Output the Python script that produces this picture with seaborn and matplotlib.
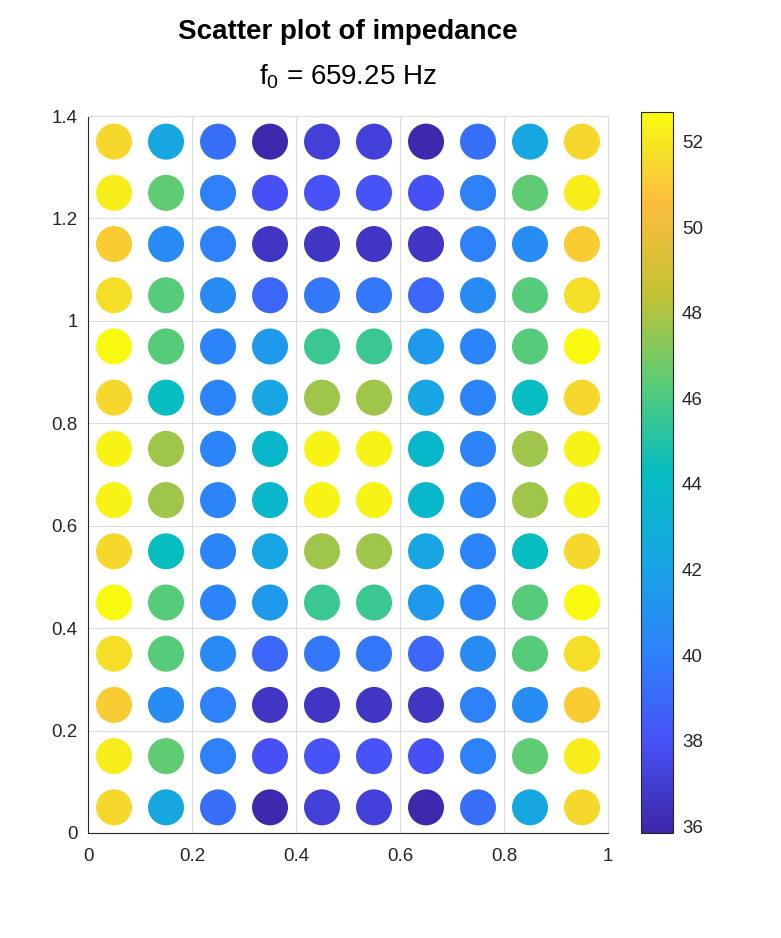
import numpy as np
import pandas as pd
import seaborn as sns
import matplotlib.pyplot as plt
from matplotlib.colors import LinearSegmentedColormap, Normalize
from matplotlib.cm import ScalarMappable

# grid of measurement points
x_pos = [0.05, 0.15, 0.25, 0.35, 0.45, 0.55, 0.65, 0.75, 0.85, 0.95]
y_pos = [1.35, 1.25, 1.15, 1.05, 0.95, 0.85, 0.75, 0.65, 0.55, 0.45, 0.35, 0.25, 0.15, 0.05]

# impedance values, one row per y position (top to bottom)
impedance = [
    [51.5, 42.3, 39.2, 36.0, 37.1, 37.2, 36.0, 39.2, 42.3, 51.5],
    [52.2, 46.5, 40.0, 37.9, 38.05, 38.05, 37.9, 40.0, 46.5, 52.2],
    [51.1, 40.7, 40.0, 36.6, 36.6, 36.6, 36.6, 40.0, 40.7, 51.1],
    [51.7, 46.3, 40.6, 38.9, 39.6, 39.6, 38.9, 40.6, 46.3, 51.7],
    [52.6, 46.3, 40.2, 41.4, 45.6, 45.6, 41.4, 40.2, 46.3, 52.6],
    [51.5, 44.3, 40.2, 42.2, 47.7, 47.7, 42.2, 40.2, 44.3, 51.5],
    [52.4, 47.7, 40.2, 43.8, 52.4, 52.4, 43.8, 40.2, 47.7, 52.4],
    [52.4, 47.7, 40.2, 43.8, 52.4, 52.4, 43.8, 40.2, 47.7, 52.4],
    [51.5, 44.3, 40.2, 42.2, 47.7, 47.7, 42.2, 40.2, 44.3, 51.5],
    [52.6, 46.3, 40.2, 41.4, 45.6, 45.6, 41.4, 40.2, 46.3, 52.6],
    [51.7, 46.3, 40.6, 38.9, 39.6, 39.6, 38.9, 40.6, 46.3, 51.7],
    [51.1, 40.7, 40.0, 36.6, 36.6, 36.6, 36.6, 40.0, 40.7, 51.1],
    [52.2, 46.5, 40.0, 37.9, 38.05, 38.05, 37.9, 40.0, 46.5, 52.2],
    [51.5, 42.3, 39.2, 36.0, 37.1, 37.2, 36.0, 39.2, 42.3, 51.5],
]
f0 = 659.25
clim = (35.84, 52.70)

# approximate MATLAB parula
parula = LinearSegmentedColormap.from_list("parula", [
    (0.000, (0.2422, 0.1504, 0.6603)),
    (0.125, (0.2800, 0.3200, 0.9700)),
    (0.250, (0.1800, 0.5100, 0.9800)),
    (0.375, (0.0900, 0.6500, 0.8900)),
    (0.500, (0.0200, 0.7400, 0.7600)),
    (0.625, (0.3500, 0.8000, 0.4600)),
    (0.750, (0.7700, 0.7600, 0.2000)),
    (0.875, (0.9900, 0.7400, 0.2400)),
    (0.940, (0.9600, 0.8700, 0.1600)),
    (1.000, (0.9763, 0.9831, 0.0538)),
])

xx, yy = np.meshgrid(x_pos, y_pos)
df = pd.DataFrame({"x": xx.ravel(), "y": yy.ravel(), "z": np.array(impedance).ravel()})

sns.set_style("white")
plt.rcParams['font.family'] = ['Liberation Sans', 'DejaVu Sans']
plt.rcParams['mathtext.default'] = 'regular'

fig = plt.figure(figsize=(7.81, 9.38), dpi=100)
ax = fig.add_axes([0.1127, 0.112, 0.6658, 0.7643])
sns.scatterplot(data=df, x="x", y="y", hue="z", palette=parula, hue_norm=clim,
                s=672, linewidth=0, legend=False, ax=ax, zorder=3)

ax.set_xlim(0, 1)
ax.set_ylim(0, 1.4)
ax.set_xticks([0, 0.2, 0.4, 0.6, 0.8, 1])
ax.set_xticklabels(["0", "0.2", "0.4", "0.6", "0.8", "1"])
ax.set_yticks([0, 0.2, 0.4, 0.6, 0.8, 1, 1.2, 1.4])
ax.set_yticklabels(["0", "0.2", "0.4", "0.6", "0.8", "1", "1.2", "1.4"])
ax.set_xlabel("")
ax.set_ylabel("")
ax.grid(True, color="#dcdcdc", linewidth=0.8, zorder=0)
ax.tick_params(direction="in", length=5, width=0.8, labelsize=13.5,
               colors="#262626")
ax.tick_params(axis="x", pad=11)
ax.tick_params(axis="y", pad=7.5)
for side in ["top", "right"]:
    ax.spines[side].set_color("#dcdcdc")
for side in ["left", "bottom"]:
    ax.spines[side].set_color("#262626")
    ax.spines[side].set_linewidth(0.8)

cax = fig.add_axes([0.8207, 0.112, 0.041, 0.7687])
sm = ScalarMappable(norm=Normalize(*clim), cmap=parula)
cb = fig.colorbar(sm, cax=cax, ticks=[36, 38, 40, 42, 44, 46, 48, 50, 52])
cb.outline.set_edgecolor("#262626")
cb.outline.set_linewidth(0.8)
cax.tick_params(direction="in", length=5, width=0.8, labelsize=13.5,
                colors="#262626", pad=6.5)

fig.text(0.4456, 0.966, "Scatter plot of impedance", ha="center", va="center",
         fontsize=20, fontweight="bold", color="black")
fig.text(0.4456, 0.918, f"f$_0$ = {f0:.2f} Hz", ha="center", va="center",
         fontsize=20, color="black")

fig.savefig("out.png", dpi=100)
